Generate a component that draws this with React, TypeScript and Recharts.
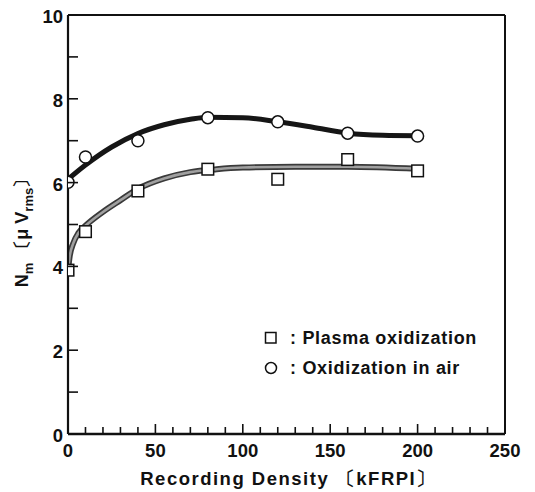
import React from 'react';
import {
  ComposedChart,
  Line,
  Scatter,
  XAxis,
  YAxis,
  ReferenceLine,
  Legend,
} from 'recharts';

// measured points
const densities = [0, 10, 40, 80, 120, 160, 200];
const plasmaNoise = [3.91, 4.83, 5.8, 6.32, 6.08, 6.55, 6.28];
const airNoise = [6.01, 6.61, 7.0, 7.55, 7.45, 7.18, 7.11];

// hand-drawn fit curves
const plasmaFitX = [0, 1, 3, 6, 10, 20, 30, 40, 55, 70, 85, 100, 130, 160, 200];
const plasmaFitY = [3.9, 4.25, 4.55, 4.8, 4.97, 5.3, 5.58, 5.85, 6.1, 6.25, 6.32, 6.36, 6.38, 6.38, 6.33];
const airFitX = [0, 10, 25, 40, 55, 70, 80, 100, 120, 140, 160, 180, 200];
const airFitY = [6.08, 6.42, 6.85, 7.17, 7.38, 7.51, 7.56, 7.55, 7.45, 7.32, 7.18, 7.13, 7.12];

const seriesNames = ['Plasma oxidization', 'Oxidization in air'];

const xTicks = [0, 10, 20, 30, 40, 50, 60, 70, 80, 90, 100, 110, 120, 130, 140, 150, 160, 170, 180, 190, 200, 210, 220, 230, 240, 250];
const yTicks = [0, 1, 2, 3, 4, 5, 6, 7, 8, 9, 10];

const plasmaPts = densities.map((x, i) => ({ x, y: plasmaNoise[i] }));
const airPts = densities.map((x, i) => ({ x, y: airNoise[i] }));
const plasmaFit = plasmaFitX.map((x, i) => ({ x, y: plasmaFitY[i] }));
const airFit = airFitX.map((x, i) => ({ x, y: airFitY[i] }));

const FONT = '"Liberation Sans", Arial, sans-serif';
const INK = '#111';

const YTick = (props: any) => {
  const { x, y, payload } = props;
  const v = payload.value;
  return (
    <g>
      <line x1={x} x2={x + 10} y1={y} y2={y} stroke={INK} strokeWidth={1.6} />
      {v % 2 === 0 && (
        <text x={x - 5} y={y + 8} textAnchor="end" fontFamily={FONT} fontWeight="bold" fontSize={18.5} fill={INK}>
          {v}
        </text>
      )}
    </g>
  );
};

const XTick = (props: any) => {
  const { x, y, payload } = props;
  const v = payload.value;
  const major = v % 50 === 0;
  return (
    <g>
      <line x1={x} x2={x} y1={y} y2={y - (major ? 10 : 7)} stroke={INK} strokeWidth={1.6} />
      {major && (
        <text x={x} y={y + 23} textAnchor="middle" fontFamily={FONT} fontWeight="bold" fontSize={18.5} fill={INK}>
          {v}
        </text>
      )}
    </g>
  );
};

const XTitle = (props: any) => {
  const vb = props.viewBox || { x: 68, y: 434, width: 437 };
  return (
    <text x={vb.x + vb.width / 2 + 2} y={vb.y + 51} textAnchor="middle" fontFamily={FONT} fontWeight="bold" fontSize={18.5} letterSpacing={1.5} fill={INK}>
      Recording Density  〔kFRPI〕
    </text>
  );
};

const YTitle = (props: any) => {
  const vb = props.viewBox || { x: 8, y: 15, height: 419 };
  const cx = vb.x + 20;
  const cy = vb.y + vb.height / 2 + 4;
  return (
    <text x={cx} y={cy} transform={`rotate(-90, ${cx}, ${cy})`} textAnchor="middle" fontFamily={FONT} fontWeight="bold" fontSize={18} fill={INK}>
      <tspan>N</tspan>
      <tspan dy={5} fontSize={13}>m</tspan>
      <tspan dy={-5}> 〔μ V</tspan>
      <tspan dy={5} fontSize={13}>rms</tspan>
      <tspan dy={-5}>〕</tspan>
    </text>
  );
};

const SquareDot = (props: any) => {
  const { cx, cy } = props;
  return <rect x={cx - 5.8} y={cy - 5.8} width={11.6} height={11.6} fill="#fff" stroke={INK} strokeWidth={1.5} />;
};

const CircleDot = (props: any) => {
  const { cx, cy } = props;
  return <circle cx={cx} cy={cy} r={6} fill="#fff" stroke={INK} strokeWidth={1.5} />;
};

const LegendBox = () => (
  <div style={{ fontFamily: FONT, fontWeight: 'bold', fontSize: 18, letterSpacing: 0.7, color: INK }}>
    {seriesNames.map((name, i) => (
      <div key={name} style={{ display: 'flex', alignItems: 'center', height: 30 }}>
        <svg width={14} height={14} style={{ marginRight: 12 }}>
          {i === 0 ? (
            <rect x={1.5} y={1.5} width={10.5} height={10.5} fill="#fff" stroke={INK} strokeWidth={1.5} />
          ) : (
            <circle cx={7} cy={7} r={5.5} fill="#fff" stroke={INK} strokeWidth={1.5} />
          )}
        </svg>
        <span>: {name}</span>
      </div>
    ))}
  </div>
);

export default function App() {
  return (
    <div style={{ position: 'absolute', left: 0, top: 0, width: 535, height: 492, background: '#fff' }}>
      <ComposedChart width={535} height={492} margin={{ top: 15, right: 30, bottom: 0, left: 8 }}>
        <XAxis
          type="number"
          dataKey="x"
          domain={[0, 250]}
          ticks={xTicks}
          interval={0}
          height={58}
          tickSize={0}
          tickMargin={0}
          tickLine={false}
          tick={<XTick />}
          axisLine={{ stroke: INK, strokeWidth: 2.4 }}
          label={<XTitle />}
          allowDataOverflow
        />
        <YAxis
          type="number"
          dataKey="y"
          domain={[0, 10]}
          ticks={yTicks}
          interval={0}
          width={60}
          tickSize={0}
          tickMargin={0}
          tickLine={false}
          tick={<YTick />}
          axisLine={{ stroke: INK, strokeWidth: 2.2 }}
          label={<YTitle />}
          allowDataOverflow
        />
        <ReferenceLine y={10} stroke={INK} strokeWidth={2} />
        <ReferenceLine x={250} stroke={INK} strokeWidth={2} />
        <Line data={plasmaFit} dataKey="y" type="monotone" stroke="#3a3a3a" strokeWidth={6} dot={false} legendType="none" isAnimationActive={false} />
        <Line data={plasmaFit} dataKey="y" type="monotone" stroke="#a0a0a0" strokeWidth={2.6} dot={false} legendType="none" isAnimationActive={false} />
        <Line data={airFit} dataKey="y" type="monotone" stroke="#161616" strokeWidth={5} dot={false} legendType="none" isAnimationActive={false} />
        <Scatter name={seriesNames[0]} data={plasmaPts} dataKey="y" shape={<SquareDot />} isAnimationActive={false} />
        <Scatter name={seriesNames[1]} data={airPts} dataKey="y" shape={<CircleDot />} isAnimationActive={false} />
        <Legend
          layout="horizontal"
          verticalAlign="middle"
          align="center"
          content={<LegendBox />}
          wrapperStyle={{ left: 264, top: 323, width: 'auto' }}
        />
      </ComposedChart>
    </div>
  );
}
